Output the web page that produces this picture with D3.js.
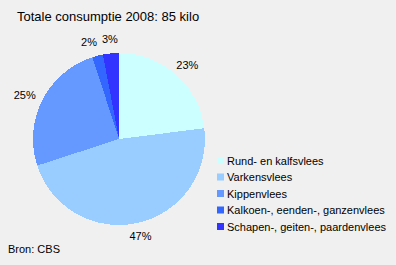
<!DOCTYPE html>
<html>
<head>
<meta charset="utf-8">
<script src="https://cdn.jsdelivr.net/npm/d3@7"></script>
<style>
  body { margin: 0; background: #f0f0f0; }
  svg { display: block; font-family: "Liberation Sans", Arial, sans-serif; }
</style>
</head>
<body>
<svg id="chart"></svg>
<script>
const categories = ["Rund- en kalfsvlees", "Varkensvlees", "Kippenvlees", "Kalkoen-, eenden-, ganzenvlees", "Schapen-, geiten-, paardenvlees"];
const shares = [23, 47, 25, 2, 3];
const labels = ["23%", "47%", "25%", "2%", "3%"];
const colors = ["#ccffff", "#99ccff", "#6699ff", "#3366ff", "#3333ff"];

const width = 396, height = 265;
const cx = 119, cy = 139, radius = 86;

const svg = d3.select('#chart')
    .attr('width', width)
    .attr('height', height)
    .style('background-color', '#f0f0f0');

// title
svg.append('text')
    .attr('x', 17)
    .attr('y', 21)
    .style('font-size', '13px')
    .attr('fill', '#000')
    .text('Totale consumptie 2008: 85 kilo');

const pie = d3.pie().sort(null).value(d => d)(shares);
const arc = d3.arc().innerRadius(0).outerRadius(radius);
const labelR = 96;

const g = svg.append('g').attr('transform', `translate(${cx}, ${cy})`);

g.selectAll('path')
    .data(pie)
    .enter().append('path')
    .attr('d', arc)
    .attr('fill', (d, i) => colors[i])
    .attr('shape-rendering', 'crispEdges');

// labels sit just outside the pie, pushed out by half their box
let labelText = g.selectAll('text')
    .data(pie)
    .enter().append('text')
    .attr('text-anchor', 'middle')
    .attr('dy', '0.36em')
    .style('font-size', '11px')
    .text((d, i) => labels[i]);

let boxes = [];
labelText.each(function (d) {
    let a = (d.startAngle + d.endAngle) / 2;
    let w = this.getComputedTextLength();
    boxes.push({
        x: Math.sin(a) * (labelR + w / 2 * Math.abs(Math.sin(a))),
        y: -Math.cos(a) * (labelR + 4 * Math.abs(Math.cos(a))),
        w: w
    });
});

// keep neighbouring labels apart
for (let i = 0; i < boxes.length; i++) {
    for (let j = i + 1; j < boxes.length; j++) {
        let A = boxes[i], B = boxes[j];
        if (Math.abs(A.y - B.y) > 9) continue;
        let gap = Math.abs(A.x - B.x) - (A.w + B.w) / 2;
        if (gap < 5) {
            let left = A.x < B.x ? A : B;
            left.x -= 5 - gap;
        }
    }
}

labelText.attr('transform', (d, i) => `translate(${boxes[i].x}, ${boxes[i].y})`);

// legend
const legendY = d3.scalePoint()
    .domain(categories)
    .range([160.5, 226.5]);

const item = svg.append('g').selectAll('g')
    .data(categories)
    .enter().append('g')
    .attr('transform', d => `translate(217, ${legendY(d)})`);

item.append('rect')
    .attr('x', 0)
    .attr('y', -3.5)
    .attr('width', 7)
    .attr('height', 7)
    .attr('fill', (d, i) => colors[i]);

item.append('text')
    .attr('x', 10)
    .attr('y', 4)
    .style('font-size', '11px')
    .text(d => d);

// source
svg.append('text')
    .attr('x', 8)
    .attr('y', 253)
    .style('font-size', '11px')
    .text('Bron: CBS');
</script>
</body>
</html>
